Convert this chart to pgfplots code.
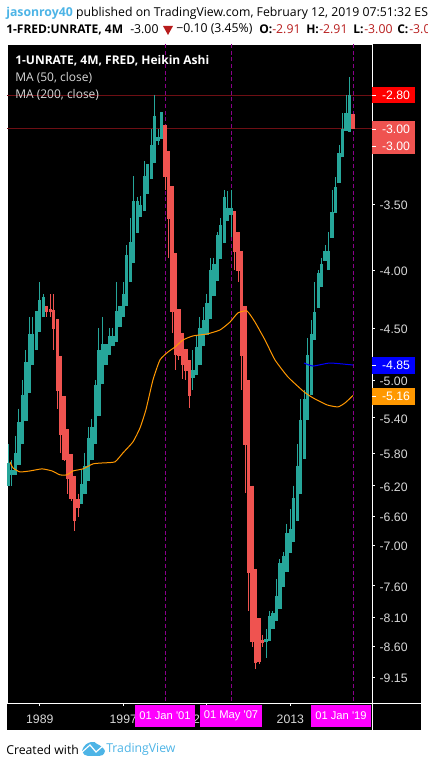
\documentclass[border=0pt]{standalone}
\usepackage{pgfplots}
\usepackage{pgfplotstable}
\usepackage{fontspec}
\pgfplotsset{compat=1.18}
\setmainfont{Open Sans}
\newfontfamily\arial{Liberation Sans}
\definecolor{tvteal}{HTML}{26A69A}
\definecolor{tvred}{HTML}{EF5350}
\definecolor{tvblue}{HTML}{4DB4E6}
\definecolor{tvorange}{HTML}{FF9800}
\definecolor{tvmag}{HTML}{FF00FF}
\definecolor{hdrred}{HTML}{B71C1C}
\definecolor{vlinec}{HTML}{8A008A}
\definecolor{hlinec}{HTML}{6E0F14}
\definecolor{ticktxt}{HTML}{D8D8D8}
\pgfplotstableread{
year top bot hi lo
2018.67 -2.80 -3.019 -2.70 -3.019
2018.33 -2.905 -3.013 -2.80 -3.013
2018.00 -3.00 -3.176 -2.905 -3.176
2017.67 -3.15 -3.35 -3.10 -3.35
2017.33 -3.377 -3.56 -3.309 -3.56
2017.00 -3.553 -3.745 -3.397 -3.745
2016.67 -3.846 -3.997 -3.70 -3.997
2016.33 -3.846 -3.925 -3.80 -3.925
2016.00 -3.949 -4.138 -3.90 -4.138
2015.67 -4.02 -4.319 -3.997 -4.319
2015.33 -4.354 -4.609 -4.096 -4.609
2015.00 -4.553 -5.153 -4.426 -5.153
2014.67 -4.751 -5.423 -4.59 -5.423
2014.33 -5.196 -5.87 -5.10 -5.87
2014.00 -5.423 -6.30 -5.196 -6.30
2013.67 -5.955 -6.66 -5.694 -6.66
2013.33 -6.354 -6.95 -6.20 -6.95
2013.00 -6.77 -7.107 -6.50 -7.107
2012.67 -6.824 -7.387 -6.70 -7.387
2012.33 -7.15 -7.616 -7.09 -7.616
2012.00 -7.253 -7.964 -7.194 -7.964
2011.67 -7.756 -8.16 -7.493 -8.16
2011.33 -8.03 -8.295 -7.997 -8.295
2011.00 -8.078 -8.50 -7.997 -8.50
2010.67 -8.466 -8.518 -8.295 -8.798
2007.33 -3.524 -3.574 -3.397 -3.737
2007.00 -3.524 -3.618 -3.404 -3.618
2006.67 -3.445 -3.784 -3.397 -3.784
2006.33 -3.648 -3.909 -3.596 -3.909
2006.00 -3.722 -4.087 -3.70 -4.087
2005.67 -3.949 -4.214 -3.90 -4.214
2005.33 -3.997 -4.416 -3.90 -4.416
2005.00 -4.275 -4.562 -4.197 -4.562
2004.67 -4.426 -4.666 -4.31 -4.666
2004.33 -4.498 -4.85 -4.398 -4.85
2004.00 -4.675 -4.948 -4.562 -4.948
2003.67 -4.899 -4.979 -4.704 -5.10
2000.67 -2.90 -3.062 -2.90 -3.062
2000.33 -3.05 -3.075 -3.00 -3.10
2000.00 -2.922 -3.216 -2.80 -3.216
1999.67 -3.10 -3.322 -3.00 -3.322
1999.33 -3.222 -3.424 -3.222 -3.424
1999.00 -3.302 -3.546 -3.203 -3.546
1998.67 -3.502 -3.589 -3.438 -3.589
1998.33 -3.474 -3.707 -3.445 -3.707
1998.00 -3.474 -3.941 -3.302 -3.941
1997.67 -3.776 -4.096 -3.596 -4.096
1997.33 -3.877 -4.301 -3.80 -4.301
1997.00 -4.197 -4.398 -4.096 -4.398
1996.67 -4.301 -4.489 -4.301 -4.489
1996.33 -4.345 -4.628 -4.096 -4.628
1996.00 -4.571 -4.666 -4.498 -4.666
1995.67 -4.571 -4.751 -4.498 -4.751
1995.33 -4.647 -4.85 -4.647 -4.85
1995.00 -4.647 -5.04 -4.398 -5.04
1994.67 -4.704 -5.378 -4.498 -5.378
1994.33 -5.05 -5.694 -4.999 -5.694
1994.00 -5.50 -5.883 -5.412 -5.883
1993.67 -5.625 -6.139 -5.50 -6.139
1993.33 -5.955 -6.30 -5.799 -6.30
1993.00 -6.177 -6.433 -6.003 -6.433
1989.33 -4.223 -4.398 -4.197 -4.398
1989.00 -4.249 -4.535 -4.096 -4.535
1988.67 -4.345 -4.704 -4.345 -4.704
1988.33 -4.553 -4.85 -4.398 -4.85
1988.00 -4.553 -5.132 -4.398 -5.132
1987.67 -4.82 -5.434 -4.704 -5.434
1987.33 -5.153 -5.694 -4.999 -5.694
1987.00 -5.445 -5.943 -5.30 -5.943
1986.67 -5.799 -6.064 -5.602 -6.064
1986.33 -6.003 -6.064 -5.883 -6.20
1986.00 -5.919 -6.20 -5.694 -6.20
}\tealcandles
\pgfplotstableread{
year top bot hi lo
2019.00 -2.91 -3.00 -2.91 -3.00
2010.33 -8.483 -8.535 -8.396 -8.605
2010.00 -8.11 -8.87 -8.11 -8.907
2009.67 -7.342 -8.889 -7.342 -8.998
2009.33 -6.20 -8.518 -6.20 -8.605
2009.00 -4.999 -7.40 -4.999 -7.997
2008.67 -4.301 -5.706 -4.301 -6.29
2008.33 -3.846 -4.761 -3.846 -5.10
2008.00 -3.70 -4.005 -3.70 -4.096
2007.67 -3.546 -3.854 -3.546 -3.997
2003.33 -4.80 -5.164 -4.80 -5.29
2003.00 -4.694 -4.909 -4.694 -4.999
2002.67 -4.544 -4.85 -4.544 -4.989
2002.33 -4.328 -4.761 -4.328 -4.80
2002.00 -3.861 -4.751 -3.861 -4.899
2001.67 -3.37 -4.354 -3.37 -4.544
2001.33 -3.138 -3.604 -3.138 -3.90
2001.00 -2.976 -3.309 -2.976 -3.397
1992.67 -6.368 -6.487 -6.30 -6.605
1992.33 -6.076 -6.66 -6.076 -6.796
1992.00 -5.81 -6.368 -5.81 -6.394
1991.67 -5.523 -6.114 -5.523 -6.30
1991.33 -5.164 -5.883 -5.164 -5.895
1991.00 -4.761 -5.59 -4.761 -5.799
1990.67 -4.416 -5.112 -4.416 -5.30
1990.33 -4.336 -4.507 -4.197 -4.704
1990.00 -4.328 -4.354 -4.197 -4.398
1989.67 -4.301 -4.354 -4.301 -4.398
}\redcandles
\pgfplotstableread{
year ma
1986.15 -5.906
1986.43 -5.979
1987.10 -6.028
1988.06 -6.016
1989.21 -5.991
1990.17 -6.016
1990.93 -6.064
1991.60 -6.064
1992.18 -6.016
1993.14 -5.991
1994.10 -5.93
1995.05 -5.919
1996.20 -5.906
1996.97 -5.799
1997.93 -5.67
1998.60 -5.512
1999.17 -5.31
1999.84 -4.999
2000.51 -4.80
2001.28 -4.723
2001.95 -4.675
2002.72 -4.609
2003.67 -4.571
2005.02 -4.553
2006.26 -4.516
2007.22 -4.444
2007.98 -4.362
2008.85 -4.345
2009.61 -4.444
2010.57 -4.609
2011.53 -4.80
2012.77 -4.969
2014.31 -5.122
2015.17 -5.185
2016.51 -5.26
2017.56 -5.281
2018.23 -5.239
2019.00 -5.16
}\maslow
\pgfplotstableread{
year ma
2014.31 -4.83
2015.17 -4.86
2016.80 -4.83
2019.00 -4.85
}\mafast
\pgfplotsset{
  candlepart/.style n args={2}{
    draw=none, mark=none, forget plot,
    error bars/.cd, y dir=minus, y explicit,
    error mark=none,
    error bar style={draw=#1, line width=#2}
  }
}
\newcommand{\candles}[5]{%
  \addplot[candlepart={#2}{#3}] table[x=year,
    y expr={-ln(-\thisrow{#4})},
    y error minus expr={ln(-\thisrow{#5})-ln(-\thisrow{#4})}] {#1};}
\begin{document}
\begin{tikzpicture}
\useasboundingbox (0,0) rectangle (321pt,575.25pt);
\clip (0,0) rectangle (321pt,575.25pt);
\begin{scope}[x=0.75pt,y=-0.75pt,shift={(0,575.25pt)}]
  \fill[black] (7,44) rectangle (421,730);
\end{scope}
\begin{axis}[
  at={(5.25pt,48pt)}, anchor=south west,
  scale only axis, width=273.75pt, height=494.25pt,
  xmin=1985.86, xmax=2020.82,
  ymin=-2.2664, ymax=-0.9259,
  axis line style={white, line width=0.7pt},
  tick style={white, line width=0.6pt},
  tick align=outside, major tick length=2.2pt,
  xtick pos=lower, ytick pos=right,
  xtick={1989,1997,2005,2013},
  xticklabels={1989,1997,2005,2013},
  ytick={-1.2528,-1.3863,-1.5041,-1.6094,-1.6864,-1.7579,-1.8245,-1.8871,-1.9459,-2.0281,-2.0919,-2.1518,-2.2138},
  yticklabels={-3.50,-4.00,-4.50,-5.00,-5.40,-5.80,-6.20,-6.60,-7.00,-7.60,-8.10,-8.60,-9.15},
  xticklabel style={font=\arial\fontsize{9.2}{10}\selectfont, text=ticktxt, yshift=-3pt},
  yticklabel style={font=\arial\fontsize{9.2}{10}\selectfont, text=ticktxt, xshift=0pt, yshift=-0.8pt},
  clip=true,
]
\addplot[vlinec, densely dashed, line width=0.55pt, forget plot] coordinates {(2001,-0.9259)(2001,-2.2664)};
\addplot[vlinec, densely dashed, line width=0.55pt, forget plot] coordinates {(2007.33,-0.9259)(2007.33,-2.2664)};
\addplot[vlinec, densely dashed, line width=0.55pt, forget plot] coordinates {(2019,-0.9259)(2019,-2.2664)};
\addplot[hlinec, line width=0.7pt, forget plot] coordinates {(1985.86,-1.0296)(2020.82,-1.0296)};
\addplot[hlinec, line width=0.7pt, forget plot] coordinates {(1985.86,-1.0986)(2020.82,-1.0986)};
\candles{\tealcandles}{tvteal}{0.75pt}{hi}{lo}
\candles{\redcandles}{tvred}{0.75pt}{hi}{lo}
\candles{\tealcandles}{tvteal}{2.5pt}{top}{bot}
\candles{\redcandles}{tvred}{2.5pt}{top}{bot}
\addplot[color=tvorange, line width=0.75pt, smooth, tension=0.3, mark=none] table[x=year, y expr={-ln(-\thisrow{ma})}] {\maslow};
\addplot[color=blue, line width=0.75pt, smooth, tension=0.3, mark=none] table[x=year, y expr={-ln(-\thisrow{ma})}] {\mafast};
\end{axis}
\begin{scope}[x=0.75pt,y=-0.75pt,shift={(0,575.25pt)}]
  \draw[white,line width=0.7pt] (7,703)--(421,703);
  \draw[white,line width=0.7pt] (372,44)--(372,730);
  \tikzset{bd/.style={font=\arial\fontsize{9.2}{10}\selectfont, text=white, anchor=center}}
  \tikzset{bm/.style={font=\arial\fontsize{8.4}{10}\selectfont, text=white, anchor=center}}
  \fill[red] (372,87) rectangle (415,103);
  \node[bd] at (396,95.5) {-2.80};
  \fill[tvred] (372,121) rectangle (415,154.5);
  \node[bd] at (396,129.5) {-3.00};
  \node[bd] at (396,146.5) {-3.00};
  \fill[blue] (372,357) rectangle (415,374);
  \node[bd] at (396,365.5) {-4.85};
  \fill[tvorange] (372,388) rectangle (415,405);
  \node[bd] at (396,396.5) {-5.16};
  \foreach \yy in {95,129,146,365,396} \draw[white,line width=0.5pt] (372,\yy)--(376,\yy);
  \fill[tvmag] (135,705) rectangle (195,727);
  \fill[tvmag] (200,705) rectangle (262,727);
  \fill[tvmag] (311,705) rectangle (371,727);
  \node[bm] at (165,716) {01 Jan '01};
  \node[bm] at (231,716) {01 May '07};
  \node[bm] at (341,716) {01 Jan '19};
  \tikzset{lg/.style={font=\fontsize{9}{10}\selectfont, text=white, anchor=west, inner sep=0pt}}
  \node[lg,font=\bfseries\fontsize{9}{10}\selectfont] at (15,60.5) {1-UNRATE, 4M, FRED, Heikin Ashi};
  \node[lg,text=ticktxt] at (15,78) {MA (50, close)};
  \node[lg,text=ticktxt] at (15,95) {MA (200, close)};
  \tikzset{hd/.style={font=\fontsize{9.2}{10}\selectfont, text=black, anchor=west, inner sep=0pt}}
  \tikzset{hb/.style={hd,font=\bfseries\fontsize{9}{10}\selectfont}}
  \node[hd] at (6,13) {\textcolor{tvblue}{\bfseries jasonroy40} published on TradingView.com, February 12, 2019 07:51:32 EST};
  \node[hb] at (6,29.5) {1-FRED:UNRATE, 4M};
  \node[hd] at (130,29.5) {-3.00};
  \fill[hdrred] (163,26)--(173,26)--(168,35)--cycle;
  \node[hd] at (176,29.5) {−0.10 (3.45\%)};
  \node[hb] at (259,29.5) {O:};
  \node[hd,text=hdrred] at (272,29.5) {-2.91};
  \node[hb] at (306,29.5) {H:};
  \node[hd,text=hdrred] at (319,29.5) {-2.91};
  \node[hb] at (353,29.5) {L:};
  \node[hd,text=hdrred] at (364,29.5) {-3.00};
  \node[hb] at (397,29.5) {C:};
  \node[hd,text=hdrred] at (409,29.5) {-3.00};
  \node[hd] at (6,749.5) {Created with};
  \fill[tvblue] (82,751) .. controls (84,744) and (88,743) .. (91,742) .. controls (94,741) and (96,743) .. (97,744) .. controls (100,745) and (104,748) .. (105,751) .. controls (104,755) and (102,756) .. (99,756) -- (88,756) .. controls (85,756) and (83,754) .. (82,751) -- cycle;
  \draw[white,line width=0.9pt] (81,753)--(90,745)--(96,752)--(104,745);
  \node[hd,text=tvblue] at (106,749.5) {TradingView};
\end{scope}
\end{tikzpicture}
\end{document}
